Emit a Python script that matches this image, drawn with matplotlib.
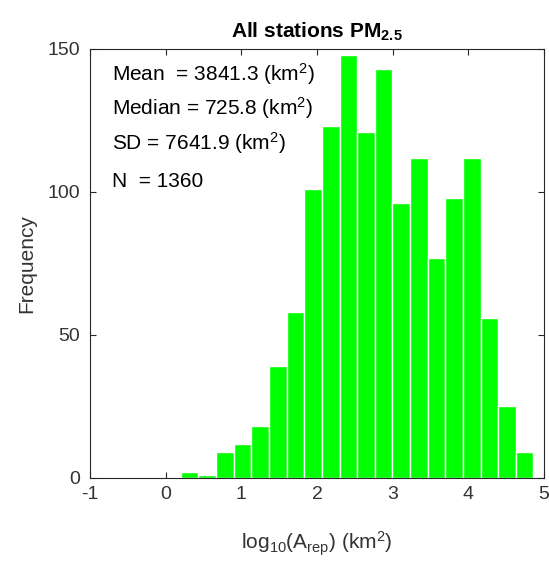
#!/usr/bin/env python3
"""Histogram of representative area, all PM2.5 stations."""

import matplotlib
matplotlib.use("Agg")
import matplotlib.pyplot as plt
import numpy as np

# Bin layout (log10 km^2)
bin_start = 0.2
bin_width = 0.233
counts = [2, 1, 9, 12, 18, 39, 58, 101, 123, 148,
          121, 143, 96, 112, 77, 98, 112, 56, 25, 9]

x_ticks = [-1, 0, 1, 2, 3, 4, 5]
y_ticks = [0, 50, 100, 150]

stats_lines = [
    r"Mean  = 3841.3 (km$^{\mathregular{2}}$)",
    r"Median = 725.8 (km$^{\mathregular{2}}$)",
    r"SD = 7641.9 (km$^{\mathregular{2}}$)",
    r"N  = 1360",
]

plt.rcParams["font.family"] = ["Liberation Sans", "DejaVu Sans"]
plt.rcParams["mathtext.fontset"] = "custom"
plt.rcParams["mathtext.rm"] = "Liberation Sans"
plt.rcParams["mathtext.it"] = "Liberation Sans"
plt.rcParams["mathtext.bf"] = "Liberation Sans:bold"
plt.rcParams["axes.unicode_minus"] = False

dark = "#262626"

fig = plt.figure(figsize=(5.49, 5.61), dpi=100)
ax = fig.add_axes([0.164, 0.148, 0.827, 0.765])

edges = bin_start + bin_width * np.arange(len(counts) + 1)
ax.bar(edges[:-1], counts, width=bin_width, align="edge",
       color="#00ff00", edgecolor="white", linewidth=1.0, zorder=2)

ax.set_xlim(-1, 5)
ax.set_ylim(0, 150)
ax.set_xticks(x_ticks)
ax.set_yticks(y_ticks)
ax.tick_params(direction="in", top=True, right=True, length=4,
               width=0.8, color=dark, labelcolor="#333333", labelsize=14)
ax.tick_params(axis="x", pad=6)
ax.tick_params(axis="y", pad=7)
for sp in ax.spines.values():
    sp.set_color(dark)
    sp.set_linewidth(0.8)

ax.set_xlabel(r"log$_{\mathregular{10}}$(A$_{\mathregular{rep}}$) (km$^{\mathregular{2}}$)",
              fontsize=15, color="#333333", labelpad=19)
ax.set_ylabel("Frequency", fontsize=15, color="#333333", labelpad=8)
ax.set_title(r"All stations PM$_{\mathbf{2.5}}$", fontsize=15,
             fontweight="bold", color="black", pad=8)

ys = [0.925, 0.846, 0.765, 0.678]
for txt, y in zip(stats_lines, ys):
    ax.text(0.048, y, txt, transform=ax.transAxes, fontsize=15,
            color="black", ha="left", va="baseline")

fig.savefig("out.png", dpi=100, facecolor="white")
